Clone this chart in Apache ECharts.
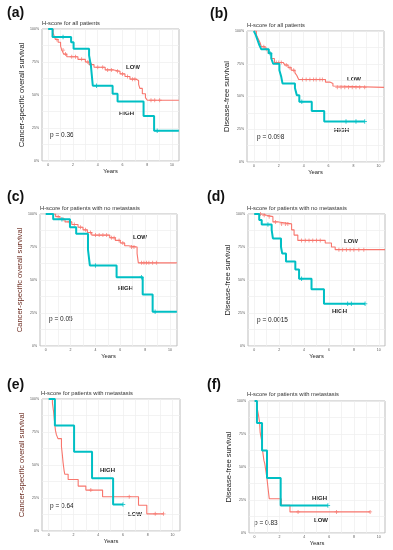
<!DOCTYPE html>
<html><head><meta charset="utf-8">
<script src="https://cdn.jsdelivr.net/npm/echarts@6/dist/echarts.min.js"></script>
<style>html,body{margin:0;padding:0;background:#fff}#c{width:393px;height:550px}</style>
</head><body><div id="c"></div>
<script>
// ---- tick labels ----
const xTickLabels = [0, 2, 4, 6, 8, 10];
const xGridTicks = [0, 1, 2, 3, 4, 5, 6, 7, 8, 9, 10];
const yTickLabels = [0, 0.25, 0.5, 0.75, 1];
const yGridTicks = [0, 0.125, 0.25, 0.375, 0.5, 0.625, 0.75, 0.875, 1];

// ---- (a) all patients, cancer-specific overall survival ----
const aLow = [[0,1],[0.4,0.97],[0.5,0.94],[0.6,0.92],[0.8,0.90],[1.0,0.87],[1.1,0.84],[1.25,0.81],[1.5,0.79],[2.4,0.77],[3.0,0.75],[3.3,0.73],[3.7,0.71],[4.6,0.69],[5.3,0.68],[5.8,0.66],[6.2,0.64],[6.6,0.62],[7.1,0.61],[7.3,0.58],[7.4,0.55],[7.6,0.51],[7.85,0.48],[8.0,0.46],[10.55,0.46]];
const aHigh = [[0,1],[0.35,0.94],[1.85,0.90],[2.05,0.85],[3.3,0.80],[3.45,0.72],[3.6,0.57],[5.2,0.51],[5.6,0.45],[7.7,0.34],[8.55,0.23],[10.55,0.23]];
const aLowCensor = [0.7,1.2,1.4,1.9,2.2,2.7,3.2,3.5,4.0,4.4,4.8,5.1,5.6,6.0,6.4,6.8,7.0,8.3,8.6,9.0];
const aHighCensor = [1.2,3.9,8.8];

// ---- (b) all patients, disease-free survival ----
const bLow = [[0,1],[0.2,0.97],[0.35,0.94],[0.5,0.91],[0.6,0.88],[0.9,0.86],[1.15,0.83],[1.4,0.79],[1.65,0.76],[2.35,0.75],[2.5,0.74],[2.75,0.72],[3.0,0.70],[3.3,0.68],[3.45,0.66],[3.6,0.63],[5.75,0.61],[6.1,0.60],[6.35,0.58],[6.5,0.57],[10.45,0.57]];
const bHigh = [[0,1],[0.15,0.97],[0.3,0.93],[0.45,0.89],[0.6,0.86],[1.2,0.83],[1.4,0.79],[1.55,0.75],[2.05,0.70],[2.2,0.65],[2.3,0.60],[3.3,0.565],[3.45,0.51],[3.65,0.46],[4.65,0.39],[5.65,0.31],[8.9,0.31]];
const bLowCensor = [0.8,1.0,1.8,2.0,2.2,2.6,2.9,3.2,3.9,4.2,4.5,4.8,5.0,5.3,5.5,6.7,7.0,7.3,7.6,7.9,8.2,8.5,8.9];
const bHighCensor = [1.3,3.85,7.4,8.2,8.9];

// ---- (c) no metastasis, cancer-specific overall survival ----
const cLow = [[0,1],[0.8,0.98],[1.15,0.96],[1.55,0.94],[2.1,0.92],[2.6,0.90],[3.0,0.88],[3.35,0.86],[3.7,0.84],[5.15,0.82],[5.6,0.80],[6.0,0.78],[6.35,0.76],[6.65,0.75],[7.35,0.70],[7.45,0.63],[10.55,0.63]];
const cHigh = [[0,1],[0.6,0.96],[1.95,0.90],[2.45,0.85],[3.4,0.73],[3.55,0.61],[5.7,0.52],[7.8,0.39],[8.6,0.26],[10.55,0.26]];
const cLowCensor = [1.0,1.4,1.9,2.3,2.8,3.2,3.6,4.0,4.3,4.6,4.9,5.3,5.5,5.9,6.2,6.9,7.1,7.7,7.9,8.1,8.3,8.6,8.9];
const cHighCensor = [1.3,4.0,7.7,8.8];

// ---- (d) no metastasis, disease-free survival ----
const dLow = [[0,1],[0.7,0.99],[1.0,0.98],[1.5,0.94],[1.95,0.925],[3.0,0.88],[3.2,0.84],[3.5,0.80],[5.7,0.78],[6.2,0.75],[6.5,0.73],[10.5,0.73]];
const dHigh = [[0,1],[0.4,0.955],[0.6,0.92],[1.4,0.88],[1.5,0.815],[2.15,0.75],[2.25,0.70],[2.55,0.64],[3.3,0.58],[3.6,0.51],[4.6,0.43],[5.6,0.32],[8.9,0.32]];
const dLowCensor = [0.5,0.8,1.2,1.7,2.2,2.5,2.7,3.8,4.1,4.4,4.7,5.0,5.3,6.8,7.1,7.4,7.7,8.0,8.4,8.8];
const dHighCensor = [1.1,3.8,7.5,7.8,8.9];

// ---- (e) metastasis, cancer-specific overall survival ----
const eLow = [[0,1],[0.3,0.97],[0.4,0.90],[0.5,0.80],[0.55,0.76],[0.62,0.73],[0.75,0.70],[1.03,0.64],[1.1,0.58],[1.16,0.52],[1.24,0.46],[1.3,0.43],[1.57,0.39],[2.38,0.34],[3.0,0.31],[4.35,0.26],[7.25,0.195],[7.92,0.13],[9.27,0.13]];
const eHigh = [[0,1],[0.5,0.80],[2.05,0.60],[3.5,0.40],[5.2,0.20],[6.0,0.20]];
const eLowCensor = [3.4,6.5,8.6,9.27];
const eHighCensor = [6.0];

// ---- (f) metastasis, disease-free survival ----
const fLow = [[0,1],[0.2,0.95],[0.3,0.90],[0.4,0.84],[0.45,0.76],[0.55,0.71],[0.65,0.62],[0.75,0.55],[0.82,0.525],[0.9,0.475],[1.0,0.41],[1.07,0.35],[1.18,0.26],[2.15,0.21],[2.85,0.16],[9.3,0.16]];
const fHigh = [[0,1],[0.19,0.833],[0.6,0.625],[1.0,0.417],[2.1,0.208],[5.9,0.208]];
const fLowCensor = [3.5,6.6,9.3];
const fHighCensor = [5.9];

// ---- texts ----
const panelLetters = ['(a)','(b)','(c)','(d)','(e)','(f)'];
const panelTitles = ['H-score for all patients','H-score for all patients','H-score for patients with no metastasis','H-score for patients with no metastasis','H-score for patients with metastasis','H-score for patients with metastasis'];
const yNames = ['Cancer-specific overall survival','Disease-free survival','Cancer-specific overall survival','Disease-free survival','Cancer-specific overall survival','Disease-free survival'];
const pValues = ['p = 0.36','p = 0.098','p = 0.05','p = 0.0015','p = 0.64','p = 0.83'];

const LOWC = '#F8766D', HIGHC = '#00BFC4';
const FONT = '"Liberation Sans", Arial, sans-serif';

const lowSets = [aLow,bLow,cLow,dLow,eLow,fLow];
const highSets = [aHigh,bHigh,cHigh,dHigh,eHigh,fHigh];
const lowCens = [aLowCensor,bLowCensor,cLowCensor,dLowCensor,eLowCensor,fLowCensor];
const highCens = [aHighCensor,bHighCensor,cHighCensor,dHighCensor,eHighCensor,fHighCensor];

// layout (pixels) per panel
const L = [
  {left:42, top:29, width:137, height:132, xmin:-0.5, xmax:10.56, yGap:13, xGap:6, nameColor:'#222',
   letter:[7,13], title:[42,23], low:[126,67], high:[119,113], p:[50,135]},
  {left:247, top:31, width:137, height:131, xmin:-0.55, xmax:10.45, yGap:11, xGap:7, nameColor:'#222',
   letter:[210,14], title:[247,25], low:[347,79], high:[334,130], p:[257,137]},
  {left:40, top:214, width:137, height:132, xmin:-0.46, xmax:10.56, yGap:13, xGap:5, nameColor:'#6b2b20',
   letter:[7,197], title:[40,208], low:[133,237], high:[118,288], p:[49,319]},
  {left:248, top:214, width:137, height:132, xmin:-0.5, xmax:10.5, yGap:14, xGap:5, nameColor:'#222',
   letter:[207,197], title:[247,208], low:[344,241], high:[332,311], p:[257,320]},
  {left:42, top:399, width:138, height:132, xmin:-0.54, xmax:10.6, yGap:15, xGap:7, nameColor:'#6b2b20',
   letter:[7,385], title:[41,393], low:[128,514], high:[100,470], p:[50,506]},
  {left:249, top:401, width:136, height:132, xmin:-0.45, xmax:10.5, yGap:15, xGap:6, nameColor:'#222',
   letter:[207,385], title:[247,394], low:[314,520], high:[312,498], p:[254,523]}
];

function survAt(steps, t){ let s = 1; for (const [tt, ss] of steps) if (tt <= t) s = ss; return s; }
const PLUS = 'path://M3.9,0H6.1V3.9H10V6.1H6.1V10H3.9V6.1H0V3.9H3.9Z';

const grid = [], xAxis = [], yAxis = [], series = [], graphic = [];
L.forEach((g, i) => {
  grid.push({left:g.left, top:g.top, width:g.width, height:g.height, show:true, borderColor:'#bdbdbd', borderWidth:1, backgroundColor:'#fff'});
  xAxis.push({type:'value', gridIndex:i, min:g.xmin, max:g.xmax,
    name:'Years', nameLocation:'middle', nameGap:g.xGap, nameTextStyle:{fontSize:5.8, color:'#222', fontFamily:FONT},
    axisLine:{show:false}, axisTick:{show:false, customValues:xGridTicks},
    axisLabel:{customValues:xTickLabels, fontSize:3.5, color:'#555', margin:2, fontFamily:FONT},
    splitLine:{show:true, lineStyle:{color:'#eeeeee', width:0.7}}});
  yAxis.push({type:'value', gridIndex:i, min:0, max:1,
    name:yNames[i], nameLocation:'middle', nameRotate:90, nameGap:g.yGap, nameTextStyle:{fontSize:7.6, color:g.nameColor, fontFamily:FONT},
    axisLine:{show:false}, axisTick:{show:false, customValues:yGridTicks},
    axisLabel:{customValues:yTickLabels, fontSize:3.5, color:'#555', margin:3, fontFamily:FONT, formatter:v => Math.round(v*100)+'%'},
    splitLine:{show:true, lineStyle:{color:'#eeeeee', width:0.7}}});
  series.push({type:'line', xAxisIndex:i, yAxisIndex:i, step:'end', data:lowSets[i], showSymbol:false, symbol:'none',
    lineStyle:{color:LOWC, width:1.1}, z:3, silent:true});
  series.push({type:'scatter', xAxisIndex:i, yAxisIndex:i, data:lowCens[i].map(t => [t, survAt(lowSets[i], t)]),
    symbol:PLUS, symbolSize:4, itemStyle:{color:LOWC}, z:3, silent:true});
  series.push({type:'line', xAxisIndex:i, yAxisIndex:i, step:'end', data:highSets[i], showSymbol:false, symbol:'none',
    lineStyle:{color:HIGHC, width:2}, z:4, silent:true});
  series.push({type:'scatter', xAxisIndex:i, yAxisIndex:i, data:highCens[i].map(t => [t, survAt(highSets[i], t)]),
    symbol:PLUS, symbolSize:4.5, itemStyle:{color:HIGHC}, z:4, silent:true});

  const txt = (pos, text, size, weight, color) => ({type:'text', x:pos[0], y:pos[1], silent:true,
    style:{text, fontSize:size, fontWeight:weight, fill:color, fontFamily:FONT, align:'left', verticalAlign:'middle'}});
  graphic.push(txt(g.letter, panelLetters[i], 14, 'bold', '#111'));
  graphic.push(txt(g.title, panelTitles[i], 5.8, 'normal', '#333'));
  graphic.push(txt(g.low, 'LOW', 6, 'bold', '#222'));
  graphic.push(txt(g.high, 'HIGH', 6, 'bold', '#222'));
  graphic.push(txt(g.p, pValues[i], 6.5, 'normal', '#222'));
});

const chart = echarts.init(document.getElementById('c'), null, {renderer:'canvas'});
chart.setOption({animation:false, backgroundColor:'#fff', grid, xAxis, yAxis, series, graphic});
</script>
</body></html>
